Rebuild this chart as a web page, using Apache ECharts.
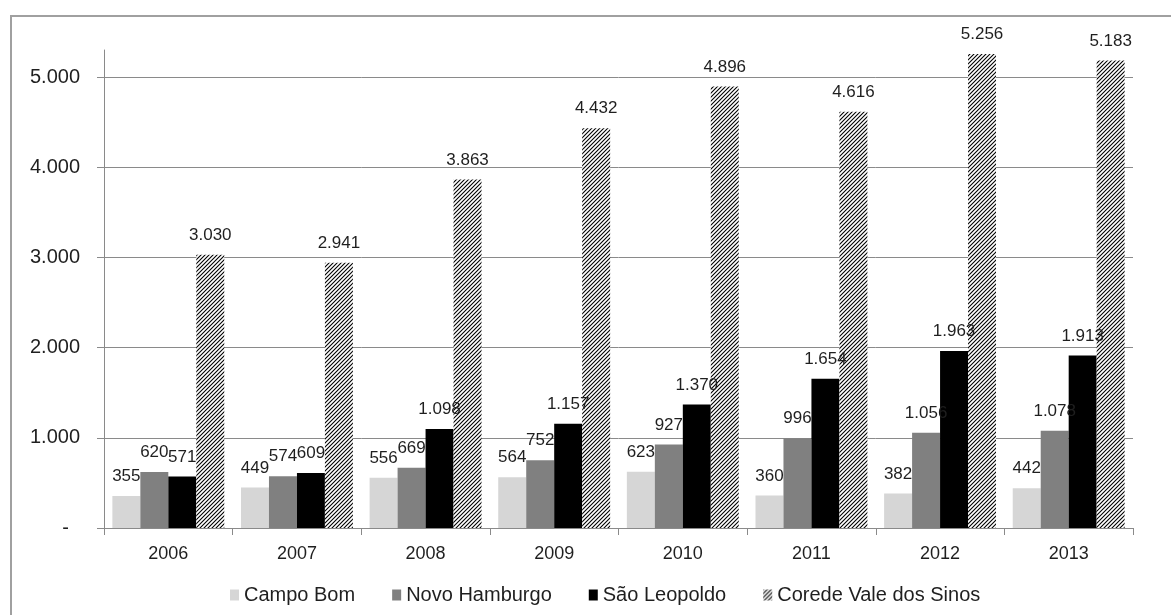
<!DOCTYPE html>
<html>
<head>
<meta charset="utf-8">
<script src="https://cdn.jsdelivr.net/npm/echarts@6/dist/echarts.min.js"></script>
<style>
  html, body { margin: 0; padding: 0; background: #fff; overflow: hidden; }
  #frame { position: absolute; left: 10px; top: 15px; width: 1300px; height: 700px;
           border-left: 2px solid #a0a0a0; border-top: 2px solid #a0a0a0; box-sizing: border-box; }
  #chart { position: absolute; left: 0; top: 0; width: 1171px; height: 615px; }
</style>
</head>
<body>
<div id="frame"></div>
<div id="chart"></div>
<script>
const categories = ['2006', '2007', '2008', '2009', '2010', '2011', '2012', '2013'];
const campoBom = [355, 449, 556, 564, 623, 360, 382, 442];
const novoHamburgo = [620, 574, 669, 752, 927, 996, 1056, 1078];
const saoLeopoldo = [571, 609, 1098, 1157, 1370, 1654, 1963, 1913];
const corede = [3030, 2941, 3863, 4432, 4896, 4616, 5256, 5183];
const seriesNames = ['Campo Bom', 'Novo Hamburgo', 'São Leopoldo', 'Corede Vale dos Sinos'];

function fmt(v) {
  return String(v).replace(/\B(?=(\d{3})+(?!\d))/g, '.');
}

// diagonal hatch pattern
const pc = document.createElement('canvas');
pc.width = 4; pc.height = 4;
const ctx = pc.getContext('2d');
ctx.fillStyle = '#ffffff';
ctx.fillRect(0, 0, 4, 4);
ctx.strokeStyle = '#000000';
ctx.lineWidth = 1.1;
ctx.beginPath();
ctx.moveTo(-1, 5); ctx.lineTo(5, -1);
ctx.moveTo(-1, 1); ctx.lineTo(1, -1);
ctx.moveTo(3, 5); ctx.lineTo(5, 3);
ctx.stroke();
const hatch = { image: pc, repeat: 'repeat' };

const FONT = "'Liberation Sans', Arial, sans-serif";

const labelStyle = {
  show: true, position: 'top', distance: 11,
  fontFamily: FONT, fontSize: 17, color: '#1f1f1f',
  formatter: p => fmt(p.value)
};

function bar(name, data, color) {
  return {
    name: name, type: 'bar', data: data,
    barGap: '0%', barCategoryGap: '13%',
    itemStyle: { color: color },
    label: labelStyle
  };
}

const chart = echarts.init(document.getElementById('chart'), null, { renderer: 'canvas' });
chart.setOption({
  animation: false,
  backgroundColor: 'transparent',
  grid: { left: 104, right: 38, top: 50, bottom: 87, containLabel: false },
  legend: {
    data: seriesNames,
    left: 225, top: 580,
    itemWidth: 9, itemHeight: 11, itemGap: 37,
    icon: 'rect',
    textStyle: { fontFamily: FONT, fontSize: 20, color: '#1f1f1f' }
  },
  xAxis: {
    type: 'category', data: categories,
    axisLine: { lineStyle: { color: '#8a8a8a', width: 1 } },
    axisTick: { show: true, length: 7, lineStyle: { color: '#8a8a8a' }, interval: 0 },
    axisLabel: { margin: 17, fontFamily: FONT, fontSize: 18, color: '#1f1f1f' }
  },
  yAxis: {
    type: 'value', min: 0, max: 5300, interval: 1000,
    axisLine: { show: true, lineStyle: { color: '#8a8a8a', width: 1 } },
    axisTick: { show: true, length: 7, lineStyle: { color: '#8a8a8a' } },
    splitLine: { show: true, showMaxLine: false, lineStyle: { color: '#8a8a8a', width: 1 } },
    axisLabel: {
      showMaxLabel: false, margin: 24,
      fontFamily: FONT, fontSize: 20, color: '#1f1f1f',
      formatter: v => (v === 0 ? '-  ' : (v % 1000 === 0 ? fmt(v) : ''))
    }
  },
  series: [
    bar(seriesNames[0], campoBom, '#d6d6d6'),
    bar(seriesNames[1], novoHamburgo, '#808080'),
    bar(seriesNames[2], saoLeopoldo, '#000000'),
    bar(seriesNames[3], corede, hatch)
  ]
});
</script>
</body>
</html>
